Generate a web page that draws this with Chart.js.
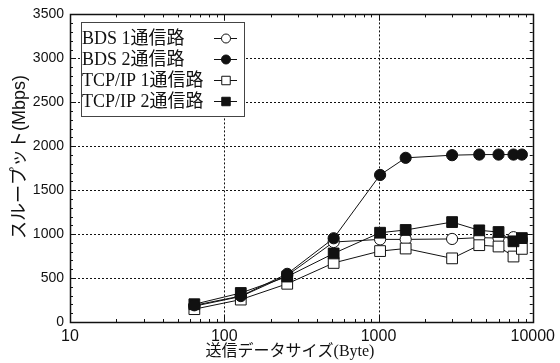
<!DOCTYPE html>
<html>
<head>
<meta charset="utf-8">
<script src="https://cdn.jsdelivr.net/npm/chart.js@4/dist/chart.umd.min.js"></script>
<style>
  html, body { margin: 0; padding: 0; background: #fff; }
  canvas { display: block; }
</style>
</head>
<body>
<canvas id="c" width="560" height="363"></canvas>
<script>
// Message sizes (bytes)
const sizes = [64, 128, 256, 512, 1024, 1500, 3000, 4500, 6000, 7500, 8500];

// Throughput (Mbps) per configuration
const bds1 = [180, 290, 530, 910, 940, 940, 945, 960, 955, 965, 935];
const bds2 = [190, 295, 548, 953, 1673, 1868, 1898, 1905, 1905, 1905, 1905];
const tcp1 = [146, 255, 435, 672, 807, 836, 724, 874, 859, 745, 832];
const tcp2 = [202, 330, 517, 780, 1016, 1047, 1137, 1043, 1024, 918, 955];

const seriesLabels = ['BDS 1通信路', 'BDS 2通信路', 'TCP/IP 1通信路', 'TCP/IP 2通信路'];

// Axis ticks
const xMajorTicks = [10, 100, 1000, 10000];
const yMajorTicks = [0, 500, 1000, 1500, 2000, 2500, 3000, 3500];

const xTitle = '送信データサイズ(Byte)';
const yTitle = 'スループット(Mbps)';

const INK = '#111';
const SERIF_JP = "'Liberation Serif', 'Noto Sans CJK JP'";
const SANS_JP = "'Liberation Sans', 'Noto Sans CJK JP'";

function pts(vals) {
  return sizes.map((s, i) => ({ x: s, y: vals[i] }));
}

function series(label, vals, style, filled, order) {
  const r = style === 'rect' ? 7.6 : 5.6;
  return {
    label,
    data: pts(vals),
    order,
    borderColor: INK,
    borderWidth: 1,
    pointStyle: style,
    pointRadius: r,
    pointHoverRadius: r,
    pointBorderWidth: 1,
    pointBorderColor: INK,
    pointBackgroundColor: filled ? INK : '#fff',
    backgroundColor: filled ? INK : '#fff',
    tension: 0,
    fill: false
  };
}

const datasets = [
  series(seriesLabels[0], bds1, 'circle', false, 4),
  series(seriesLabels[1], bds2, 'circle', true, 1),
  series(seriesLabels[2], tcp1, 'rect', false, 3),
  series(seriesLabels[3], tcp2, 'rect', true, 2)
];

// Dotted grid at the inner major ticks
const gridPlugin = {
  id: 'dottedGrid',
  beforeDatasetsDraw(chart) {
    const { ctx, chartArea: a, scales } = chart;
    ctx.save();
    ctx.strokeStyle = INK;
    ctx.lineWidth = 1;
    ctx.setLineDash([2, 2]);
    xMajorTicks.slice(1, -1).forEach(v => {
      const x = Math.round(scales.x.getPixelForValue(v)) + 0.5;
      ctx.beginPath(); ctx.moveTo(x, a.top); ctx.lineTo(x, a.bottom); ctx.stroke();
    });
    yMajorTicks.slice(1, -1).forEach(v => {
      const y = Math.round(scales.y.getPixelForValue(v)) + 0.5;
      ctx.beginPath(); ctx.moveTo(a.left, y); ctx.lineTo(a.right, y); ctx.stroke();
    });
    ctx.restore();
  }
};

// Frame with inward minor ticks, legend box and axis titles
const framePlugin = {
  id: 'frameLegend',
  afterDraw(chart) {
    const { ctx, chartArea: a, scales } = chart;
    ctx.save();
    ctx.setLineDash([]);
    ctx.strokeStyle = INK;
    ctx.lineWidth = 1;

    // inward ticks along the y sides
    for (let v = 0; v <= 3500; v += 100) {
      const y = Math.round(scales.y.getPixelForValue(v)) + 0.5;
      const len = v % 500 === 0 ? 6 : 3;
      ctx.beginPath();
      ctx.moveTo(a.left, y); ctx.lineTo(a.left + len, y);
      ctx.moveTo(a.right, y); ctx.lineTo(a.right - len, y);
      ctx.stroke();
    }
    // inward log ticks along the x sides
    for (let d = 10; d < 10000; d *= 10) {
      for (let m = 1; m <= 10; m++) {
        const v = d * m;
        const x = Math.round(scales.x.getPixelForValue(v)) + 0.5;
        const len = (m === 1 || m === 10) ? 6 : 3;
        ctx.beginPath();
        ctx.moveTo(x, a.bottom); ctx.lineTo(x, a.bottom - len);
        ctx.moveTo(x, a.top); ctx.lineTo(x, a.top + len);
        ctx.stroke();
      }
    }
    // frame
    ctx.lineWidth = 1.5;
    ctx.strokeRect(Math.round(a.left) + 0.5, Math.round(a.top) + 0.5,
                   Math.round(a.right - a.left), Math.round(a.bottom - a.top));

    // legend
    const box = { x: 81, y: 22, w: 163, h: 94 };
    ctx.fillStyle = '#fff';
    ctx.fillRect(box.x, box.y, box.w, box.h);
    ctx.lineWidth = 1;
    ctx.strokeStyle = '#444';
    ctx.strokeRect(box.x + 0.5, box.y + 0.5, box.w, box.h);
    ctx.font = '18px ' + SERIF_JP;
    ctx.textBaseline = 'middle';
    ctx.textAlign = 'left';
    const rowY = [38, 59, 80, 101];
    chart.data.datasets.forEach((ds, i) => {
      const y = rowY[i];
      ctx.fillStyle = INK;
      ctx.fillText(ds.label, 82, y + 1);
      ctx.strokeStyle = INK;
      ctx.lineWidth = 1;
      ctx.beginPath(); ctx.moveTo(214, y + 0.5); ctx.lineTo(237, y + 0.5); ctx.stroke();
      ctx.fillStyle = ds.pointBackgroundColor;
      Chart.helpers.drawPoint(ctx, {
        pointStyle: ds.pointStyle,
        radius: ds.pointStyle === 'rect' ? 6 : 4.5,
        rotation: 0,
        borderWidth: 1
      }, 226, y + 0.5);
    });

    // axis titles
    ctx.fillStyle = INK;
    ctx.textAlign = 'center';
    ctx.textBaseline = 'middle';
    ctx.font = '16px ' + SERIF_JP;
    ctx.fillText(xTitle, 290, 352);
    ctx.save();
    ctx.translate(20, 157);
    ctx.rotate(-Math.PI / 2);
    ctx.font = '18px ' + SANS_JP;
    ctx.fillText(yTitle, 0, 0);
    ctx.restore();

    ctx.restore();
  }
};

new Chart(document.getElementById('c'), {
  type: 'line',
  data: { datasets },
  options: {
    responsive: false,
    animation: false,
    devicePixelRatio: 1,
    layout: { padding: { top: 11, right: 27, left: 0, bottom: 0 } },
    plugins: { legend: { display: false }, tooltip: { enabled: false } },
    scales: {
      x: {
        type: 'logarithmic',
        min: 10,
        max: 10000,
        afterBuildTicks(scale) { scale.ticks = xMajorTicks.map(v => ({ value: v, major: true })); },
        afterFit(scale) { scale.height = 41; },
        grid: { display: false, drawTicks: false },
        border: { display: false },
        ticks: {
          autoSkip: false,
          maxRotation: 0,
          padding: 5,
          color: INK,
          font: { family: "'Liberation Sans'", size: 16 },
          callback: v => String(v)
        }
      },
      y: {
        min: 0,
        max: 3500,
        afterBuildTicks(scale) { scale.ticks = yMajorTicks.map(v => ({ value: v })); },
        afterFit(scale) { scale.width = 70; },
        grid: { display: false, drawTicks: false },
        border: { display: false },
        ticks: {
          padding: 6,
          color: INK,
          font: { family: "'Liberation Sans'", size: 14 },
          callback: v => String(v)
        }
      }
    }
  },
  plugins: [gridPlugin, framePlugin]
});
</script>
</body>
</html>
